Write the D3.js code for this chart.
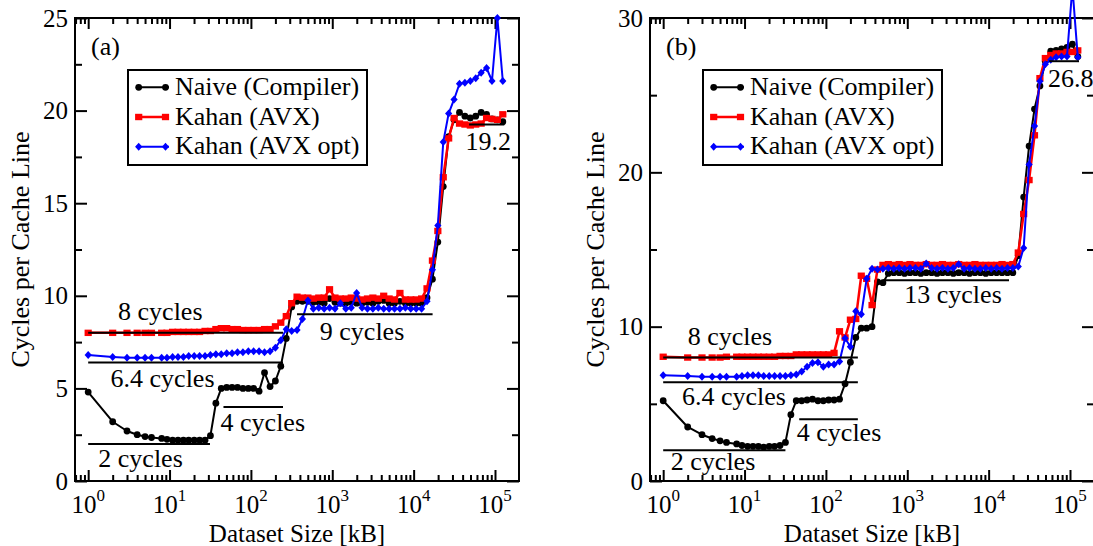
<!DOCTYPE html>
<html><head><meta charset="utf-8">
<script src="https://cdn.jsdelivr.net/npm/d3@7"></script>
<style>
body{margin:0;background:#fff}
svg{display:block}
text{font-family:"Liberation Serif","Times New Roman",serif;fill:#000}
</style>
</head><body>
<svg id="c" width="1093" height="546"></svg>
<script>
// ---------- data ----------
const sizesKB = [1,2,3,4,5,6,8,9.3,10.9,12.7,14.8,17.2,20.1,23.4,27.3,31.8,37.1,43.2,50.4,58.7,
  68.4,79.8,93,108,126,147,172,200,233,272,317,369,430,502,585,682,795,926,1080,1259,
  1467,1710,1993,2323,2707,3155,3678,4287,4997,5824,6788,7912,9222,10749,12528,14602,17020,19838,23122,26950,
  31413,36613,42675,49740,57975,67573,78761,91800,107000,124716];

const seriesNames = ["Naive (Compiler)", "Kahan (AVX)", "Kahan (AVX opt)"];

// panel (a)
const naiveA = [4.8,3.2,2.7,2.5,2.4,2.35,2.3,2.25,2.2,2.2,
  2.2,2.2,2.2,2.2,2.2,2.45,4.2,5.0,5.05,5.05,
  5.05,5.0,5.0,5.0,4.85,5.85,5.1,5.4,6.2,7.7,
  9.4,9.7,9.7,9.7,9.65,9.65,9.6,9.85,9.65,9.6,
  9.6,9.65,9.6,9.6,9.65,9.6,9.7,9.75,9.6,9.6,
  9.7,9.6,9.6,9.6,9.6,9.9,10.9,12.9,15.9,18.6,
  19.5,19.9,19.7,19.6,19.7,19.9,19.8,19.55,19.5,19.4];
const kahanA = [8.0,8.0,8.0,8.0,8.0,8.0,8.0,8.0,8.05,8.05,
  8.05,8.05,8.05,8.05,8.1,8.1,8.2,8.25,8.25,8.2,
  8.2,8.15,8.15,8.15,8.15,8.2,8.2,8.35,8.55,8.9,
  9.6,9.95,9.9,9.9,9.85,9.9,9.9,10.35,9.9,9.85,
  9.85,9.9,9.85,9.8,9.85,9.9,9.85,10.0,9.85,9.8,
  10.15,9.8,9.8,9.8,9.85,10.4,11.9,13.5,16.4,18.5,
  19.6,19.3,19.25,19.2,19.25,19.3,19.6,19.55,19.5,19.8];
const kahanOptA = [6.8,6.7,6.65,6.65,6.65,6.65,6.65,6.65,6.7,6.7,
  6.7,6.75,6.75,6.75,6.75,6.8,6.85,6.85,6.9,6.9,
  6.95,6.95,7.0,7.0,7.0,6.95,7.0,7.2,7.6,8.2,
  8.1,8.15,8.75,9.75,9.3,9.35,9.3,9.35,9.3,9.6,
  9.3,9.35,10.15,9.35,9.3,9.3,9.35,9.3,9.3,9.3,
  9.3,9.35,9.3,9.3,9.3,9.7,11.4,13.8,18.3,19.85,
  20.6,21.45,21.5,21.6,21.75,22.05,22.3,21.6,25.0,21.6];

// panel (b)
const naiveB = [5.2,3.5,3.0,2.75,2.6,2.5,2.4,2.3,2.25,2.25,
  2.25,2.2,2.25,2.25,2.3,2.5,4.3,5.2,5.2,5.25,
  5.3,5.2,5.2,5.25,5.25,5.3,6.3,7.7,9.3,9.9,
  9.9,10.0,12.9,12.85,13.45,13.5,13.5,13.45,13.5,13.5,
  13.45,13.5,13.5,13.45,13.5,13.5,13.45,13.5,13.5,13.45,
  13.5,13.5,13.45,13.5,13.5,13.5,13.5,13.5,14.6,18.4,
  21.7,24.1,25.6,27.2,27.85,27.9,28.0,28.1,28.3,27.5];
const kahanB = [8.05,8.0,8.0,8.0,8.0,8.05,8.05,8.05,8.05,8.05,
  8.05,8.05,8.05,8.05,8.1,8.1,8.1,8.2,8.2,8.2,
  8.2,8.2,8.2,8.2,8.3,9.7,9.3,10.45,10.5,13.3,
  13.1,11.4,13.7,14.0,14.05,14.0,14.05,14.0,14.05,14.0,
  14.0,14.05,14.0,14.0,14.05,14.0,14.0,14.05,14.0,14.0,
  14.05,14.0,14.0,14.0,14.0,14.05,14.0,14.05,14.8,17.3,
  19.5,22.4,26.1,27.4,27.6,27.7,27.7,27.8,27.8,27.9];
const kahanOptB = [6.85,6.8,6.75,6.75,6.75,6.75,6.75,6.8,6.85,6.85,
  6.85,6.8,6.8,6.8,6.8,6.8,6.85,6.9,7.1,7.4,
  7.65,7.7,7.4,7.55,7.55,7.75,9.25,8.7,11.0,10.8,
  13.1,13.75,13.7,13.75,13.8,13.75,13.8,13.75,13.8,13.8,
  13.75,14.1,13.8,13.75,13.8,13.75,13.8,14.05,13.75,13.8,
  13.75,13.75,13.8,13.75,13.8,13.75,13.8,13.8,13.9,15.1,
  20.5,23.0,25.9,27.0,27.3,27.45,27.5,27.5,32.0,27.45];

const xTickExponents = [0,1,2,3,4,5];
const yTicksA = [0,5,10,15,20,25];
const yMinorA = [2.5,7.5,12.5,17.5,22.5];
const yTicksB = [0,10,20,30];
const yMinorB = [5,15,25];

// reference levels: value, from kB, to kB
const refA = [[8,1,248],[6.4,1,248],[4,46,248],[2,1,31.4],[9,369,17100],[19.25,48000,130000]];
const refB = [[8,1,247],[6.4,1,247],[4,47,247],[2,1,31.8],[13,500,17800],[27.2,55600,129000]];
// annotations: text, kB, cycles
const notesA = [["8 cycles",7.7,8.69],["6.4 cycles",8.2,5.1],["4 cycles",140,2.68],["2 cycles",4.4,0.78],["9 cycles",2323,7.61],["19.2",82500,17.85]];
const notesB = [["8 cycles",6.6,8.81],["6.4 cycles",7.4,4.93],["4 cycles",145,2.56],["2 cycles",4.1,0.71],["13 cycles",3650,11.54]];

// ---------- drawing ----------
const svg = d3.select("#c");
const colors = ["#000000","#ff0000","#0000ff"];
const W = 444, TOP = 18, BOT = 481;

function symbol(sel, kind, color){
  if(kind===0){
    sel.append("circle").attr("r",3.4).attr("fill",color);
  } else if(kind===1){
    sel.append("rect").attr("x",-3.6).attr("y",-3.2).attr("width",7.2).attr("height",6.4).attr("fill",color);
  } else {
    sel.append("path").attr("d","M0,-4L3.6,0L0,4L-3.6,0Z").attr("fill",color);
  }
}

function panel(o){
  const g = svg.append("g");
  const x = d3.scaleLog().domain([Math.pow(10,-0.162), Math.pow(10,5.295)]).range([o.left, o.left+W]);
  const y = d3.scaleLinear().domain([0,o.yMax]).range([BOT,TOP]);

  const majors = xTickExponents.map(e=>Math.pow(10,e));
  const minors = [];
  for(let e=-1;e<=5;e++) for(let m=2;m<=9;m++){
    const v=m*Math.pow(10,e);
    if(v>=x.domain()[0] && v<=x.domain()[1]) minors.push(v);
  }
  const ax = (gen, tv, size, tr) => {
    const a = g.append("g").attr("transform",tr)
      .call(gen.tickValues(tv).tickSize(size).tickFormat(""));
    a.select(".domain").remove();
    a.selectAll("text").remove();
    a.selectAll("line").attr("stroke","#000").attr("stroke-width",2);
  };
  ax(d3.axisBottom(x), majors, -11, `translate(0,${BOT})`);
  ax(d3.axisBottom(x), minors, -6, `translate(0,${BOT})`);
  ax(d3.axisTop(x), majors, -11, `translate(0,${TOP})`);
  ax(d3.axisTop(x), minors, -6, `translate(0,${TOP})`);
  ax(d3.axisLeft(y), o.yTicks, -12, `translate(${o.left},0)`);
  ax(d3.axisLeft(y), o.yMinor, -7, `translate(${o.left},0)`);
  ax(d3.axisRight(y), o.yTicks, -12, `translate(${o.left+W},0)`);
  ax(d3.axisRight(y), o.yMinor, -7, `translate(${o.left+W},0)`);

  g.append("rect").attr("x",o.left).attr("y",TOP).attr("width",W).attr("height",BOT-TOP)
    .attr("fill","none").attr("stroke","#000").attr("stroke-width",2);

  // tick labels
  o.yTicks.forEach(v=>{
    g.append("text").attr("x",o.left-7).attr("y",y(v)+8.5).attr("text-anchor","end")
      .attr("font-size",25).text(v);
  });
  xTickExponents.forEach(e=>{
    const t = g.append("text").attr("x",x(Math.pow(10,e))).attr("y",513).attr("text-anchor","middle").attr("font-size",25);
    t.append("tspan").text("10");
    t.append("tspan").attr("font-size",17).attr("dy",-12).text(e);
  });

  // axis titles
  g.append("text").attr("x",o.left+W/2).attr("y",542).attr("text-anchor","middle")
    .attr("font-size",25).text("Dataset Size [kB]");
  g.append("text").attr("transform",`translate(${o.left-46},${(TOP+BOT)/2}) rotate(-90)`)
    .attr("text-anchor","middle").attr("font-size",26).text("Cycles per Cache Line");

  // series
  const line = d3.line().x(d=>x(d[0])).y(d=>y(d[1]));
  o.series.forEach((vals,i)=>{
    const pts = sizesKB.map((s,k)=>[s,vals[k]]);
    g.append("path").attr("d",line(pts)).attr("fill","none").attr("stroke",colors[i])
      .attr("stroke-width", i===1?2.5:2).attr("stroke-linejoin","round");
    const m = g.append("g").selectAll("g").data(pts).join("g")
      .attr("transform",d=>`translate(${x(d[0])},${y(d[1])})`);
    symbol(m, i, colors[i]);
  });

  // reference lines
  o.refs.forEach(r=>{
    g.append("line").attr("x1",x(r[1])).attr("x2",x(r[2])).attr("y1",y(r[0])).attr("y2",y(r[0]))
      .attr("stroke","#000").attr("stroke-width",2);
  });
  o.notes.forEach(n=>{
    g.append("text").attr("x",x(n[1])).attr("y",y(n[2])).attr("text-anchor","middle")
      .attr("font-size",26).text(n[0]);
  });
  if(o.extra){
    g.append("text").attr("x",x(o.extra[1])).attr("y",y(o.extra[2])).attr("text-anchor","start")
      .attr("font-size",26).text(o.extra[0]);
  }
  // panel tag
  g.append("text").attr("x",o.left+16).attr("y",55).attr("font-size",26).text(o.tag);

  // legend
  const lx = o.left+53, ly = 70;
  g.append("rect").attr("x",lx).attr("y",ly).attr("width",239).attr("height",95)
    .attr("fill","#fff").attr("stroke","#000").attr("stroke-width",2);
  seriesNames.forEach((name,i)=>{
    const cy = ly+17.3+i*29.7;
    g.append("line").attr("x1",lx+8).attr("x2",lx+41).attr("y1",cy).attr("y2",cy)
      .attr("stroke",colors[i]).attr("stroke-width",i===1?2.5:2);
    [lx+10.7, lx+37.5].forEach(px=>{
      const s = g.append("g").attr("transform",`translate(${px},${cy})`);
      symbol(s,i,colors[i]);
    });
    g.append("text").attr("x",lx+47).attr("y",cy+7.5).attr("font-size",26).text(name);
  });
}

panel({left:75, yMax:25, yTicks:yTicksA, yMinor:yMinorA, series:[naiveA,kahanA,kahanOptA],
  refs:refA, notes:notesA, tag:"(a)"});
panel({left:650, yMax:30, yTicks:yTicksB, yMinor:yMinorB, series:[naiveB,kahanB,kahanOptB],
  refs:refB, notes:notesB, tag:"(b)", extra:["26.8",53700,25.5]});
</script>
</body></html>
